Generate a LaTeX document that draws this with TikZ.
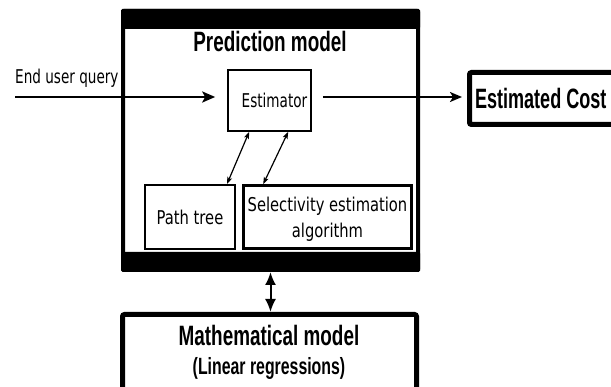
\documentclass[tikz,border=0pt]{standalone}
\usepackage{fontspec}
\usetikzlibrary{arrows.meta}
\newfontfamily\nbold[FakeStretch=0.675]{Liberation Sans Bold}
\newfontfamily\nboldc[FakeStretch=0.645]{Liberation Sans Bold}
\newfontfamily\thinf[FakeStretch=0.715]{DejaVu Sans}
\newfontfamily\thing[FakeStretch=0.775]{DejaVu Sans}
\begin{document}
\begin{tikzpicture}[x=1pt,y=-1pt,
  thintext/.style={font=\thinf\fontsize{19}{26}\selectfont},
  boxtext/.style={font=\thing\fontsize{19}{26}\selectfont},
  boldtext/.style={font=\nbold\fontsize{28}{32}\selectfont},
  smallbox/.style={draw, line width=1.6pt, inner sep=0pt},
  thickbox/.style={draw, line width=5pt, inner sep=0pt, rounded corners=2pt},
  dblthin/.style={line width=1.2pt, {Stealth[length=7pt,width=5pt,inset=1.5pt]}-{Stealth[length=7pt,width=5pt,inset=1.5pt]}}
]
\useasboundingbox (0,0) rectangle (611,387);

% outer frame
\node[draw, line width=4pt, inner sep=0pt, rounded corners=1.5pt,
      minimum width=295pt, minimum height=259pt] (pm) at (270.5,140.5) {};
\fill[rounded corners=1.5pt] (pm.north west) rectangle ([yshift=-20pt]pm.north east);
\fill[rounded corners=1.5pt] (pm.south west) rectangle ([yshift=20pt]pm.south east);

\node[boldtext, anchor=base, inner sep=0pt] (title) at (270,52) {Prediction model};

% estimator
\node[smallbox, minimum width=83pt, minimum height=61pt, thintext] (est) at (269.5,100.5) {\hspace*{10pt}Estimator};

% input
\coordinate (qin) at (15,97);
\node[thintext, anchor=base west, inner sep=0pt] (q) at (15,84) {End user query};
\draw[line width=2.6pt, -{Stealth[length=13pt,width=11pt,inset=3pt]}, shorten >=12pt]
  (qin) -- (qin -| est.west);

% estimated cost
\node[thickbox, font=\nboldc\fontsize{28}{32}\selectfont, anchor=west, minimum height=52pt, inner xsep=5.5pt] (cost) at (467,98.5)
  {Estimated Cost\hspace*{40pt}};
\draw[line width=2pt, -{Stealth[length=12pt,width=10pt,inset=3pt]}, shorten <=11pt, shorten >=5pt]
  (est.east |- qin) -- (cost.west |- qin);

% lower boxes
\node[smallbox, line width=2pt, minimum width=90pt, minimum height=64pt, boxtext] (pt) at (190,217) {Path tree};
\node[smallbox, line width=2.6pt, minimum width=168pt, minimum height=63pt, boxtext, align=center, text depth=0pt] (sel) at (327.5,217)
  {Selectivity estimation\\algorithm};

\draw[dblthin] ([xshift=22pt]est.south west) -- ([xshift=-9pt]pt.north east);
\draw[dblthin] ([xshift=61pt]est.south west) -- ([xshift=21pt]sel.north west);

% mathematical model
\node[thickbox, minimum width=294pt, minimum height=100pt] (mm) at (269.5,364.5) {};
\node[boldtext, anchor=base, inner sep=0pt] (mmt1) at (269,346) {Mathematical model};
\node[font=\nbold\fontsize{23.5}{27}\selectfont, anchor=base, inner sep=0pt] (mmt2) at (269,375) {(Linear regressions)};

\draw[line width=2pt, {Latex[length=13pt,width=11pt]}-{Latex[length=13pt,width=11pt]}]
  (pm.south) -- (pm.south |- mm.north);
\end{tikzpicture}
\end{document}
